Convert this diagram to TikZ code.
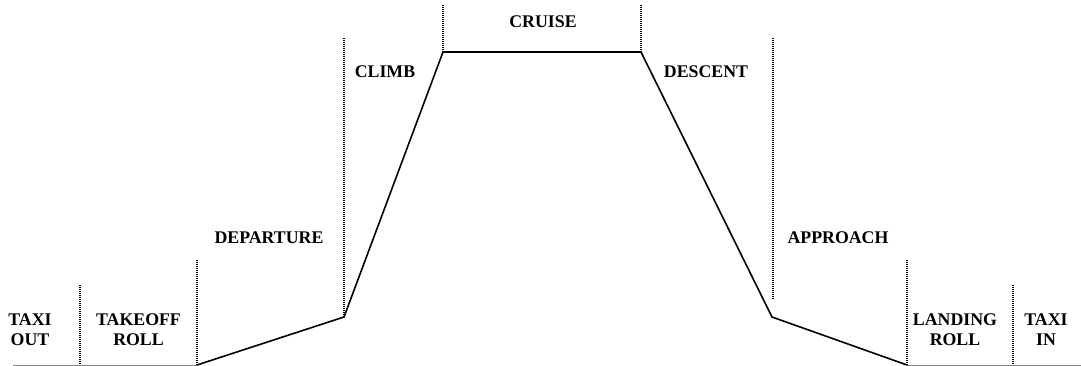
\documentclass[tikz,border=0pt]{standalone}
\usepackage{fontspec}
\setmainfont{Liberation Serif}
\begin{document}
\begin{tikzpicture}[x=1pt,y=-1pt,
  lbl/.style={font=\fontsize{17.8}{20}\selectfont\bfseries, align=center, inner sep=0pt},
  profile/.style={line width=1.6pt, line join=round},
  ground/.style={line width=1pt, gray},
  sep/.style={line width=1.1pt, dash pattern=on 1pt off 1pt}]
\useasboundingbox (0,0) rectangle (1081,366);
% profile points
\coordinate (g0) at (13,365);
\coordinate (p1) at (197,365);
\coordinate (p2) at (344,317);
\coordinate (p3) at (443,52);
\coordinate (p4) at (641,52);
\coordinate (p5) at (772,317);
\coordinate (p6) at (907,365);
\coordinate (g1) at (1081,365);
\draw[ground] (g0) -- (p1);
\draw[ground] (p6) -- (g1);
\draw[profile] (p1) -- (p2) -- (p3) -- (p4) -- (p5) -- (p6);
% separators
\coordinate (s1t) at (80,285);   \coordinate (s1b) at (80,365);
\coordinate (s2t) at (197,260);  \coordinate (s2b) at (197,365);
\coordinate (s3t) at (344,38);   \coordinate (s3b) at (344,317);
\coordinate (s4t) at (443,5);    \coordinate (s4b) at (443,52);
\coordinate (s5t) at (641,5);    \coordinate (s5b) at (641,52);
\coordinate (s6t) at (773,38);   \coordinate (s6b) at (773,300);
\coordinate (s7t) at (907,260);  \coordinate (s7b) at (907,365);
\coordinate (s8t) at (1013,285); \coordinate (s8b) at (1013,365);
\foreach \i in {1,...,8} \draw[sep] (s\i t) -- (s\i b);
% labels
\node[lbl] (taxiout) at (30,329.5) {TAXI\\OUT};
\node[lbl] (takeoff) at (138.5,329.5) {TAKEOFF\\ROLL};
\node[lbl] (dep) at (269,238) {DEPARTURE};
\node[lbl] (climb) at (385,72) {CLIMB};
\node[lbl] (cruise) at (543,22) {CRUISE};
\node[lbl] (desc) at (706,72) {DESCENT};
\node[lbl] (appr) at (838,238) {APPROACH};
\node[lbl] (landing) at (955,329.5) {LANDING\\ROLL};
\node[lbl] (taxiin) at (1046,329.5) {TAXI\\IN};
\end{tikzpicture}
\end{document}
